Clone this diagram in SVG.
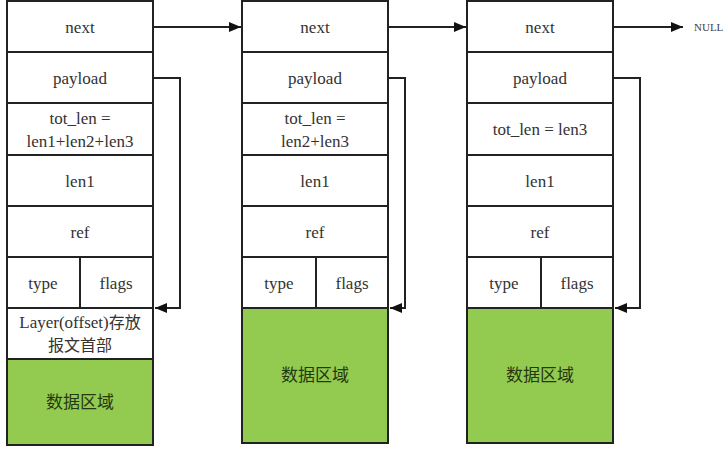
<svg xmlns="http://www.w3.org/2000/svg" width="725" height="456" viewBox="0 0 725 456">
<style>
.box{fill:#fff;stroke:#222;stroke-width:2}
.green{fill:#92CB50;stroke:#222;stroke-width:2}
.ln{stroke:#222;stroke-width:2;fill:none}
.t{font-family:"Liberation Serif","Noto Sans CJK SC",serif;font-size:17px;fill:#333;text-anchor:middle}
.zh{font-family:"Noto Sans CJK SC",sans-serif;font-size:16px;fill:#333}
.cn{font-family:"Noto Sans CJK SC",sans-serif;font-size:17px;fill:#26380f;text-anchor:middle}
.null{font-family:"Liberation Serif",serif;font-size:11px;fill:#444}
.conn{stroke:#222;stroke-width:2;fill:none}
</style>
<defs>
<marker id="ah" viewBox="0 0 10 10" refX="10" refY="5" markerWidth="6" markerHeight="5" orient="auto" markerUnits="strokeWidth" preserveAspectRatio="none">
<path d="M0,0 L10,5 L0,10 z" fill="#111"/>
</marker>
</defs>

<g id="node1">
<rect class="box" x="7" y="1" width="146" height="51"/>
<rect class="box" x="7" y="52" width="146" height="51"/>
<rect class="box" x="7" y="103" width="146" height="52"/>
<rect class="box" x="7" y="155" width="146" height="51"/>
<rect class="box" x="7" y="206" width="146" height="51"/>
<rect class="box" x="7" y="257" width="146" height="51"/>
<line class="ln" x1="80" y1="257" x2="80" y2="308"/>
<rect class="box" x="7" y="308" width="146" height="51"/>
<rect class="green" x="7" y="359" width="146" height="86"/>
<text class="t" x="80" y="33">next</text>
<text class="t" x="80" y="84">payload</text>
<text class="t" x="80" y="124">tot_len =</text>
<text class="t" x="80" y="147">len1+len2+len3</text>
<text class="t" x="80" y="187">len1</text>
<text class="t" x="80" y="238">ref</text>
<text class="t" x="43" y="289">type</text>
<text class="t" x="116" y="289">flags</text>
<text class="t" x="80" y="328">Layer(offset)<tspan class="zh">存放</tspan></text>
<text class="t" x="80" y="351"><tspan class="zh">报文首部</tspan></text>
<text class="cn" x="80" y="408">数据区域</text>
</g>

<g id="node2">
<rect class="box" x="242" y="1" width="146" height="51"/>
<rect class="box" x="242" y="52" width="146" height="51"/>
<rect class="box" x="242" y="103" width="146" height="52"/>
<rect class="box" x="242" y="155" width="146" height="51"/>
<rect class="box" x="242" y="206" width="146" height="51"/>
<rect class="box" x="242" y="257" width="146" height="51"/>
<line class="ln" x1="316" y1="257" x2="316" y2="308"/>
<rect class="green" x="242" y="308" width="146" height="135"/>
<text class="t" x="315" y="33">next</text>
<text class="t" x="315" y="84">payload</text>
<text class="t" x="315" y="124">tot_len =</text>
<text class="t" x="315" y="147">len2+len3</text>
<text class="t" x="315" y="187">len1</text>
<text class="t" x="315" y="238">ref</text>
<text class="t" x="279" y="289">type</text>
<text class="t" x="352" y="289">flags</text>
<text class="cn" x="315" y="381">数据区域</text>
</g>

<g id="node3">
<rect class="box" x="467" y="1" width="146" height="51"/>
<rect class="box" x="467" y="52" width="146" height="51"/>
<rect class="box" x="467" y="103" width="146" height="52"/>
<rect class="box" x="467" y="155" width="146" height="51"/>
<rect class="box" x="467" y="206" width="146" height="51"/>
<rect class="box" x="467" y="257" width="146" height="51"/>
<line class="ln" x1="541" y1="257" x2="541" y2="308"/>
<rect class="green" x="467" y="308" width="146" height="135"/>
<text class="t" x="540" y="33">next</text>
<text class="t" x="540" y="84">payload</text>
<text class="t" x="540" y="135">tot_len = len3</text>
<text class="t" x="540" y="187">len1</text>
<text class="t" x="540" y="238">ref</text>
<text class="t" x="504" y="289">type</text>
<text class="t" x="577" y="289">flags</text>
<text class="cn" x="540" y="381">数据区域</text>
</g>

<g id="null-label">
<text class="null" x="694" y="31">NULL</text>
</g>

<g id="connectors">
<path class="conn" d="M153,27 H241" marker-end="url(#ah)"/>
<path class="conn" d="M388,27 H466" marker-end="url(#ah)"/>
<path class="conn" d="M613,27 H683" marker-end="url(#ah)"/>
<path class="conn" d="M153,78 H180 V308 H155" marker-end="url(#ah)"/>
<path class="conn" d="M388,78 H405 V308 H390" marker-end="url(#ah)"/>
<path class="conn" d="M613,78 H640 V308 H615" marker-end="url(#ah)"/>
</g>
</svg>
